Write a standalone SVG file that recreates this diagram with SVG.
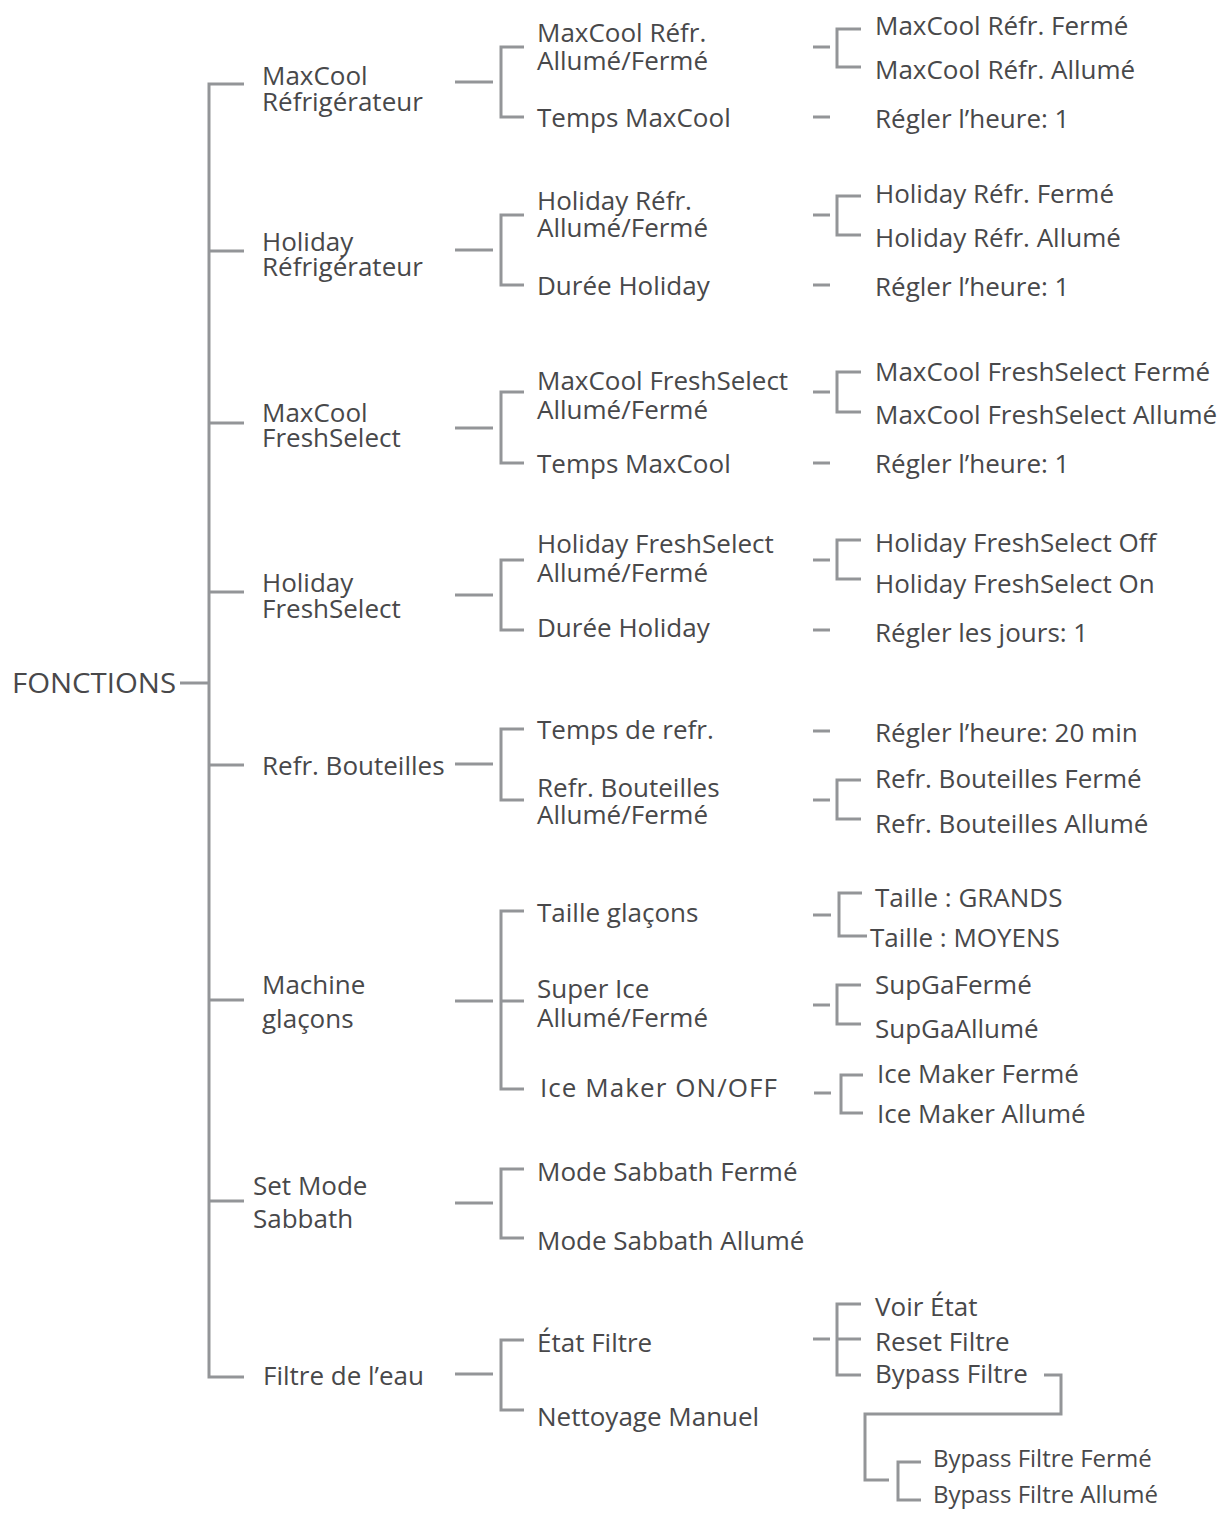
<svg xmlns="http://www.w3.org/2000/svg" width="1232" height="1517" viewBox="0 0 1232 1517">
<style>
text{font-family:"Open Sans","Noto Sans","Liberation Sans",sans-serif;font-size:26px;fill:#48484a}
.root{font-size:28px}
.sm{font-size:24px}
.ln{fill:none;stroke:#939598;stroke-width:3}
</style>
<rect width="1232" height="1517" fill="#ffffff"/>
<g id="connectors" class="ln">
<path d="M180,683 H209"/>
<path d="M244,84 H209 V1377 H244"/>
<path d="M209,251 H244 M209,423 H244 M209,592 H244 M209,765 H244 M209,1000 H244 M209,1201 H244"/>
<path d="M455,82 H493 M455,250 H493 M455,428 H493 M455,595 H493 M455,764 H493 M455,1001 H493 M455,1203 H493 M455,1374 H493"/>
<path d="M524,47 H501 V117 H524"/>
<path d="M524,215 H501 V285 H524"/>
<path d="M524,392 H501 V463 H524"/>
<path d="M524,560 H501 V630 H524"/>
<path d="M524,729 H501 V800 H524"/>
<path d="M524,911 H501 V1089 H524 M501,1001 H524"/>
<path d="M524,1169 H501 V1238 H524"/>
<path d="M524,1340 H501 V1410 H524"/>
<path d="M813,47 H830 M813,117 H830 M813,215 H830 M813,285 H830 M813,392 H830 M813,463 H830 M813,560 H830 M813,630 H830 M813,731 H830 M813,800 H830 M813,915 H831 M813,1005 H830 M814,1093 H831 M813,1339 H830"/>
<path d="M861,29 H837 V67 H861"/>
<path d="M861,196 H837 V235 H861"/>
<path d="M861,372 H837 V412 H861"/>
<path d="M861,540 H837 V579 H861"/>
<path d="M861,780 H837 V819 H861"/>
<path d="M862,893 H839 V936 H867"/>
<path d="M861,985 H837 V1024 H861"/>
<path d="M863,1075 H841 V1113 H863"/>
<path d="M861,1304 H837 V1375 H861 M837,1339 H861"/>
<path d="M1044,1375 H1061 V1414 H865 V1480 H889"/>
<path d="M921,1462 H898 V1500 H921"/>
</g>
<g id="n-fonctions"><text class="root" x="12" y="693" textLength="164" lengthAdjust="spacingAndGlyphs">FONCTIONS</text></g>
<g id="n-maxcool-refr"><text x="262" y="85">MaxCool<tspan x="262" y="111">Réfrigérateur</tspan></text></g>
<g id="n-holiday-refr"><text x="262" y="251">Holiday<tspan x="262" y="276">Réfrigérateur</tspan></text></g>
<g id="n-maxcool-fs"><text x="262" y="422">MaxCool<tspan x="262" y="447">FreshSelect</tspan></text></g>
<g id="n-holiday-fs"><text x="262" y="592">Holiday<tspan x="262" y="618">FreshSelect</tspan></text></g>
<g id="n-refr-bout"><text x="262" y="775">Refr. Bouteilles</text></g>
<g id="n-machine"><text x="262" y="994">Machine<tspan x="262" y="1028">glaçons</tspan></text></g>
<g id="n-sabbath"><text x="253" y="1195">Set Mode<tspan x="253" y="1228">Sabbath</tspan></text></g>
<g id="n-filtre"><text x="263" y="1385">Filtre de l’eau</text></g>

<g id="n-mc-onoff"><text x="537" y="42">MaxCool Réfr.<tspan x="537" y="70">Allumé/Fermé</tspan></text></g>
<g id="n-mc-temps"><text x="537" y="127">Temps MaxCool</text></g>
<g id="n-hol-onoff"><text x="537" y="210">Holiday Réfr.<tspan x="537" y="237">Allumé/Fermé</tspan></text></g>
<g id="n-hol-duree"><text x="537" y="295">Durée Holiday</text></g>
<g id="n-mcfs-onoff"><text x="537" y="390">MaxCool FreshSelect<tspan x="537" y="419">Allumé/Fermé</tspan></text></g>
<g id="n-mcfs-temps"><text x="537" y="473">Temps MaxCool</text></g>
<g id="n-hfs-onoff"><text x="537" y="553">Holiday FreshSelect<tspan x="537" y="582">Allumé/Fermé</tspan></text></g>
<g id="n-hfs-duree"><text x="537" y="637">Durée Holiday</text></g>
<g id="n-rb-temps"><text x="537" y="739">Temps de refr.</text></g>
<g id="n-rb-onoff"><text x="537" y="797">Refr. Bouteilles<tspan x="537" y="824">Allumé/Fermé</tspan></text></g>
<g id="n-taille"><text x="537" y="922">Taille glaçons</text></g>
<g id="n-superice"><text x="537" y="998">Super Ice<tspan x="537" y="1027">Allumé/Fermé</tspan></text></g>
<g id="n-icemaker"><text x="540" y="1097" textLength="237" lengthAdjust="spacing">Ice Maker ON/OFF</text></g>
<g id="n-sab-off"><text x="537" y="1181">Mode Sabbath Fermé</text></g>
<g id="n-sab-on"><text x="537" y="1250">Mode Sabbath Allumé</text></g>
<g id="n-etat"><text x="537" y="1352">État Filtre</text></g>
<g id="n-nettoyage"><text x="537" y="1426">Nettoyage Manuel</text></g>

<g id="n-mc-off"><text x="875" y="35">MaxCool Réfr. Fermé</text></g>
<g id="n-mc-on"><text x="875" y="79">MaxCool Réfr. Allumé</text></g>
<g id="n-mc-heure"><text x="875" y="128">Régler l’heure: 1</text></g>
<g id="n-hol-off"><text x="875" y="203">Holiday Réfr. Fermé</text></g>
<g id="n-hol-on"><text x="875" y="247">Holiday Réfr. Allumé</text></g>
<g id="n-hol-heure"><text x="875" y="296">Régler l’heure: 1</text></g>
<g id="n-mcfs-off"><text x="875" y="381">MaxCool FreshSelect Fermé</text></g>
<g id="n-mcfs-on"><text x="875" y="424">MaxCool FreshSelect Allumé</text></g>
<g id="n-mcfs-heure"><text x="875" y="473">Régler l’heure: 1</text></g>
<g id="n-hfs-off"><text x="875" y="552">Holiday FreshSelect Off</text></g>
<g id="n-hfs-on"><text x="875" y="593">Holiday FreshSelect On</text></g>
<g id="n-hfs-jours"><text x="875" y="642">Régler les jours: 1</text></g>
<g id="n-rb-heure"><text x="875" y="742">Régler l’heure: 20 min</text></g>
<g id="n-rb-off"><text x="875" y="788">Refr. Bouteilles Fermé</text></g>
<g id="n-rb-on"><text x="875" y="833">Refr. Bouteilles Allumé</text></g>
<g id="n-grands"><text x="875" y="907">Taille : GRANDS</text></g>
<g id="n-moyens"><text x="870" y="947">Taille : MOYENS</text></g>
<g id="n-supga-off"><text x="875" y="994">SupGaFermé</text></g>
<g id="n-supga-on"><text x="875" y="1038">SupGaAllumé</text></g>
<g id="n-im-off"><text x="877" y="1083">Ice Maker Fermé</text></g>
<g id="n-im-on"><text x="877" y="1123">Ice Maker Allumé</text></g>
<g id="n-voir"><text x="875" y="1316">Voir État</text></g>
<g id="n-reset"><text x="875" y="1351">Reset Filtre</text></g>
<g id="n-bypass"><text x="875" y="1383">Bypass Filtre</text></g>
<g id="n-bypass-off"><text class="sm" x="933" y="1467">Bypass Filtre Fermé</text></g>
<g id="n-bypass-on"><text class="sm" x="933" y="1503">Bypass Filtre Allumé</text></g>
</svg>
